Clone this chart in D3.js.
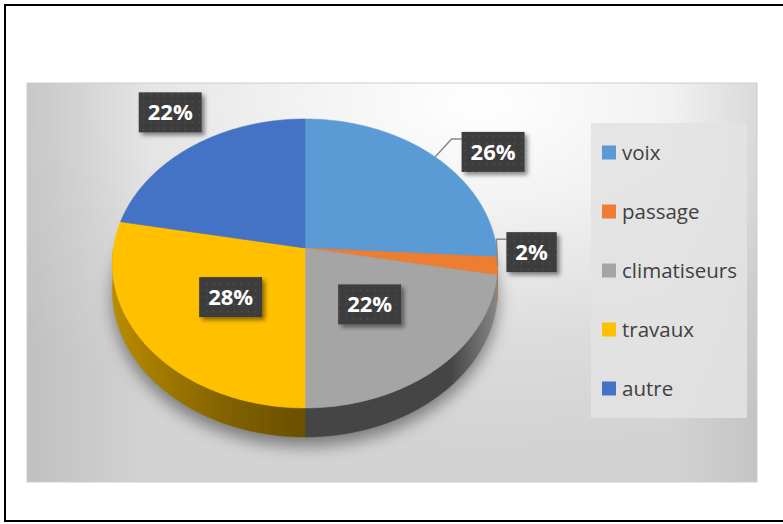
<!DOCTYPE html>
<html>
<head>
<meta charset="utf-8">
<script src="https://cdn.jsdelivr.net/npm/d3@7"></script>
<style>
  html, body { margin: 0; padding: 0; background: #ffffff; }
  svg { display: block; }
</style>
</head>
<body>
<svg id="chart" width="783" height="524"></svg>
<script>
// Data
const categories = ["voix", "passage", "climatiseurs", "travaux", "autre"];
const values = [26, 2, 22, 28, 22];
const percentLabels = ["26%", "2%", "22%", "28%", "22%"];

// Styling
const sliceColors = ["#5B9BD5", "#ED7D31", "#A5A5A5", "#FFC000", "#4472C4"];

// Label placement: anchor radius (fraction of pie radius) and pixel nudge
const labelRadius = [1, 1, 0.5, 0.5, 1];
const labelNudge = [[58, -5], [34, -14], [1, -1], [2, 2], [-22, -34]];
const labelLeader = [true, true, false, false, false];

const svg = d3.select("#chart");
const defs = svg.append("defs");

// Pie geometry (tilted disc with a little perspective)
const cx = 305, cy = 248, rx = 191.5, ry = 142.8, persp = 0.107, depth = 26;

function project(theta, r = 1) {
  const d = -r * Math.cos(theta);
  const s = 1 / (1 - persp * d);
  return [cx + rx * r * Math.sin(theta) * s, cy + ry * d * s, s];
}

// Outer frame
svg.append("rect")
  .attr("x", 5).attr("y", 5).attr("width", 800).attr("height", 516)
  .attr("fill", "#ffffff").attr("stroke", "#000").attr("stroke-width", 2);

// Plot panel background: bright glow near the top, greyer towards the edges
const bg = defs.append("radialGradient").attr("id", "panelGrad")
  .attr("cx", 0.62).attr("cy", 0.05).attr("r", 0.85);
bg.append("stop").attr("offset", 0).attr("stop-color", "#ffffff");
bg.append("stop").attr("offset", 0.3).attr("stop-color", "#f2f2f2");
bg.append("stop").attr("offset", 0.7).attr("stop-color", "#dcdcdc");
bg.append("stop").attr("offset", 1).attr("stop-color", "#d3d3d3");

const edgeShade = defs.append("linearGradient").attr("id", "edgeShade")
  .attr("x1", 0).attr("x2", 1).attr("y1", 0).attr("y2", 0);
edgeShade.append("stop").attr("offset", 0).attr("stop-color", "#000").attr("stop-opacity", 0.09);
edgeShade.append("stop").attr("offset", 0.17).attr("stop-color", "#000").attr("stop-opacity", 0);
edgeShade.append("stop").attr("offset", 0.88).attr("stop-color", "#000").attr("stop-opacity", 0);
edgeShade.append("stop").attr("offset", 1).attr("stop-color", "#000").attr("stop-opacity", 0.07);

const panel = { x: 27, y: 83, w: 730, h: 399 };
svg.append("rect")
  .attr("x", panel.x).attr("y", panel.y).attr("width", panel.w).attr("height", panel.h)
  .attr("fill", "url(#panelGrad)");
svg.append("rect")
  .attr("x", panel.x).attr("y", panel.y).attr("width", panel.w).attr("height", panel.h)
  .attr("fill", "url(#edgeShade)").attr("stroke", "#cdcdcd").attr("stroke-width", 1);

// Pie layout
const pie = d3.pie().sort(null).value(d => d.value);
const slices = pie(categories.map((c, i) => ({ name: c, value: values[i], i })));

// Sample an arc between two angles
function arcPoints(a0, a1, r = 1) {
  const n = Math.max(2, Math.ceil(Math.abs(a1 - a0) / 0.01));
  return d3.range(n + 1).map(k => project(a0 + (a1 - a0) * k / n, r));
}
const line = d3.line();

// Soft shadow under the pie
const blur = defs.append("filter").attr("id", "pieShadow")
  .attr("x", -0.2).attr("y", -0.2).attr("width", 1.4).attr("height", 1.5);
blur.append("feGaussianBlur").attr("stdDeviation", 8);

const rimBottom = arcPoints(0, 2 * Math.PI).map(p => [p[0], p[1] + depth * p[2]]);
svg.append("path")
  .attr("d", line(rimBottom) + "Z")
  .attr("transform", "translate(0,9)")
  .attr("fill", "rgba(0,0,0,0.42)")
  .attr("filter", "url(#pieShadow)");

// Side walls: only the near half of the rim is visible
const sideG = svg.append("g");
slices.forEach((s, i) => {
  const lo = Math.max(s.startAngle, Math.PI / 2);
  const hi = Math.min(s.endAngle, 3 * Math.PI / 2);
  if (hi <= lo) return;
  const base = d3.color(sliceColors[i]);
  const g = defs.append("linearGradient").attr("id", "side" + i)
    .attr("gradientUnits", "userSpaceOnUse")
    .attr("x1", cx - rx).attr("x2", cx + rx).attr("y1", 0).attr("y2", 0);
  [[0, 0.9], [0.3, 1.9], [0.5, 2.45], [0.88, 2.45], [1, 0.6]].forEach(([o, k]) => {
    g.append("stop").attr("offset", o).attr("stop-color", base.darker(k).formatHex());
  });
  const top = arcPoints(lo, hi);
  const bottom = top.map(p => [p[0], p[1] + depth * p[2]]).reverse();
  sideG.append("path")
    .attr("d", line(top.concat(bottom)) + "Z")
    .attr("fill", `url(#side${i})`)
    .attr("stroke", `url(#side${i})`).attr("stroke-width", 0.5);
});

// Top faces
const topG = svg.append("g");
slices.forEach((s, i) => {
  const pts = [[cx, cy]].concat(arcPoints(s.startAngle, s.endAngle));
  topG.append("path")
    .attr("d", line(pts) + "Z")
    .attr("fill", sliceColors[i])
    .attr("stroke", sliceColors[i]).attr("stroke-width", 0.6)
    .attr("stroke-linejoin", "round");
});

// Legend
const legendBox = { x: 591, y: 123, w: 156, h: 295 };
svg.append("rect")
  .attr("x", legendBox.x).attr("y", legendBox.y)
  .attr("width", legendBox.w).attr("height", legendBox.h)
  .attr("fill", "#e3e3e3").attr("opacity", 0.88);

const legendY = d3.scaleBand().domain(categories)
  .range([legendBox.y, legendBox.y + legendBox.h]);
const legend = svg.append("g").selectAll("g").data(categories).join("g")
  .attr("transform", d => `translate(${legendBox.x + 11},${legendY(d) + legendY.bandwidth() / 2})`);
legend.append("rect")
  .attr("x", 0).attr("y", -7).attr("width", 14).attr("height", 14)
  .attr("fill", (d, i) => sliceColors[i]);
legend.append("text")
  .attr("x", 20).attr("y", 0).attr("dy", "0.35em")
  .attr("font-family", "'Open Sans', sans-serif").attr("font-size", 20.5)
  .attr("fill", "#404040")
  .text(d => d);

// Data labels
const dots = defs.append("pattern").attr("id", "dots")
  .attr("patternUnits", "userSpaceOnUse").attr("width", 7).attr("height", 7);
dots.append("rect").attr("width", 7).attr("height", 7).attr("fill", "#3e3e3e");
dots.append("circle").attr("cx", 3.5).attr("cy", 3.5).attr("r", 0.9).attr("fill", "#4b4b4b");

const boxShadow = defs.append("filter").attr("id", "boxShadow")
  .attr("x", -0.2).attr("y", -0.2).attr("width", 1.5).attr("height", 1.6);
boxShadow.append("feDropShadow").attr("dx", 3).attr("dy", 3)
  .attr("stdDeviation", 2.2).attr("flood-color", "#000").attr("flood-opacity", 0.45);

const labelG = svg.append("g");
slices.forEach((s, i) => {
  const mid = (s.startAngle + s.endAngle) / 2;
  const anchor = project(mid, labelRadius[i]);
  const bx = anchor[0] + labelNudge[i][0];
  const by = anchor[1] + labelNudge[i][1];

  const g = labelG.append("g");
  const txt = g.append("text")
    .attr("x", bx).attr("y", by).attr("dy", "0.36em")
    .attr("text-anchor", "middle")
    .attr("font-family", "'Open Sans', sans-serif").attr("font-weight", 700)
    .attr("font-size", 22).attr("fill", "#ffffff")
    .text(percentLabels[i]);
  const tw = txt.node().getComputedTextLength();
  const bw = tw + 18, bh = 40;
  const left = bx - bw / 2, topY = by - bh / 2;
  g.insert("rect", "text")
    .attr("x", left).attr("y", topY).attr("width", bw).attr("height", bh)
    .attr("fill", "url(#dots)").attr("filter", "url(#boxShadow)");

  if (labelLeader[i]) {
    const edge = project(mid, 1);
    const ly = topY + 7;
    labelG.insert("path", "g")
      .attr("d", line([[edge[0], edge[1]], [left - 10, ly], [left, ly]]))
      .attr("fill", "none").attr("stroke", "#8a8a8a").attr("stroke-width", 1.5);
  }
});
</script>
</body>
</html>
